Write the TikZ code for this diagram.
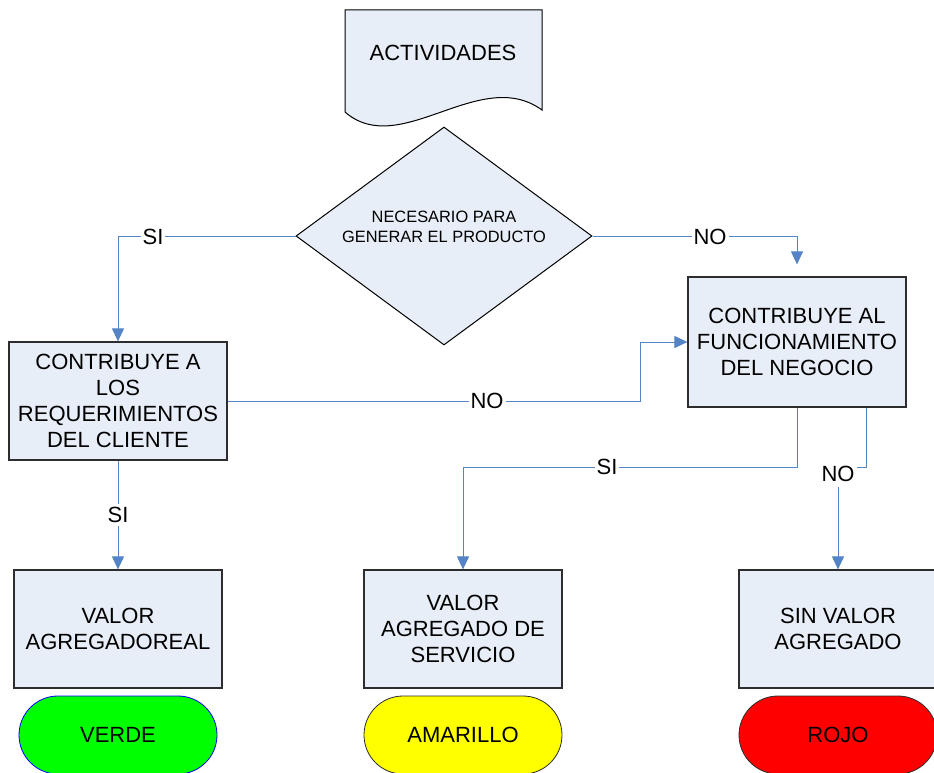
\documentclass[tikz,border=0pt]{standalone}
\usepackage{fontspec}
\setmainfont{Liberation Sans}
\usetikzlibrary{arrows.meta,shapes.geometric}

\definecolor{boxfill}{RGB}{232,238,247}
\definecolor{boxline}{RGB}{45,45,45}
\definecolor{link}{RGB}{84,132,198}

\tikzset{
  bigtext/.style={font=\fontsize{22}{26}\selectfont},
  procbox/.style={draw=boxline, line width=1.2pt, fill=boxfill, align=center,
                  inner sep=2pt, bigtext},
  decision/.style={diamond, draw=black, line width=1pt, fill=boxfill, inner sep=0pt},
  docshape/.style={draw=black, line width=1pt, fill=boxfill},
  term/.style={draw=boxline, line width=0.8pt, rounded corners=39pt,
               minimum width=198pt, minimum height=78pt, bigtext},
  conn/.style={draw=link, line width=1pt, -{Triangle[width=12pt,length=13pt]}},
  tag/.style={fill=white, inner xsep=2pt, inner ysep=3pt, bigtext}
}

\begin{document}
\begin{tikzpicture}[x=1pt, y=-1pt]
  \useasboundingbox (0,0) rectangle (934,773);

  % document symbol with wavy bottom edge
  \draw[docshape] (345,10) -- (542,10) -- (542,110)
     .. controls (480,65) and (400,160) .. (345,112) -- cycle;
  \node[bigtext] (act) at (443,53) {ACTIVIDADES};

  % decision
  \node[decision, minimum width=296pt, minimum height=218pt] (dec) at (444,236) {};
  \node[font=\fontsize{16.4}{20}\selectfont, align=center] (dectext) at (444,227)
       {NECESARIO PARA\\GENERAR EL PRODUCTO};

  % process boxes
  \node[procbox, minimum width=218pt, minimum height=118pt] (boxA) at (118,401)
       {CONTRIBUYE A\\LOS\\REQUERIMIENTOS\\DEL CLIENTE};
  \node[procbox, minimum width=218pt, minimum height=130pt] (boxB) at (797,342)
       {CONTRIBUYE AL\\FUNCIONAMIENTO\\DEL NEGOCIO};
  \node[procbox, minimum width=208pt, minimum height=118pt] (boxC) at (118,629)
       {VALOR\\AGREGADOREAL};
  \node[procbox, minimum width=198pt, minimum height=118pt] (boxD) at (463,629)
       {VALOR\\AGREGADO DE\\SERVICIO};
  \node[procbox, minimum width=198pt, minimum height=118pt] (boxE) at (838,629)
       {SIN VALOR\\AGREGADO};

  % colour terminators
  \node[term, draw=blue, fill={rgb,255:red,0;green,255;blue,0}] (verde) at (118,735) {VERDE};
  \node[term, fill={rgb,255:red,255;green,255;blue,0}] (amarillo) at (463,735) {AMARILLO};
  \node[term, fill={rgb,255:red,255;green,0;blue,0}] (rojo) at (838,735) {ROJO};

  % junction points of the elbow connectors
  \coordinate (j1) at (640,401);
  \coordinate (j2) at (463,467);
  \coordinate (b5) at ([xshift=-40pt]boxB.south east);
  \coordinate (j3) at (838,467);

  % connectors
  \draw[conn] (dec.west) -| (boxA.north);
  \draw[conn, shorten >=12pt] (dec.east) -| (boxB.north);
  \draw[conn] (boxA.east) -- (j1) |- (boxB.west);
  \draw[conn] (boxB.south) |- (j2) -- (boxD.north);
  \draw[conn] (b5) |- (j3) -- (boxE.north);
  \draw[conn] (boxA.south) -- (boxC.north);

  % connector labels
  \node[tag] (siA) at (153,237) {SI};
  \node[tag] (noB) at (710,237) {NO};
  \node[tag] (noA) at (487,401) {NO};
  \node[tag] (siB) at (607,467) {SI};
  \node[tag, inner ysep=5pt] (noE) at (838,474) {NO};
  \node[tag] (siC) at (118,515) {SI};
\end{tikzpicture}
\end{document}
